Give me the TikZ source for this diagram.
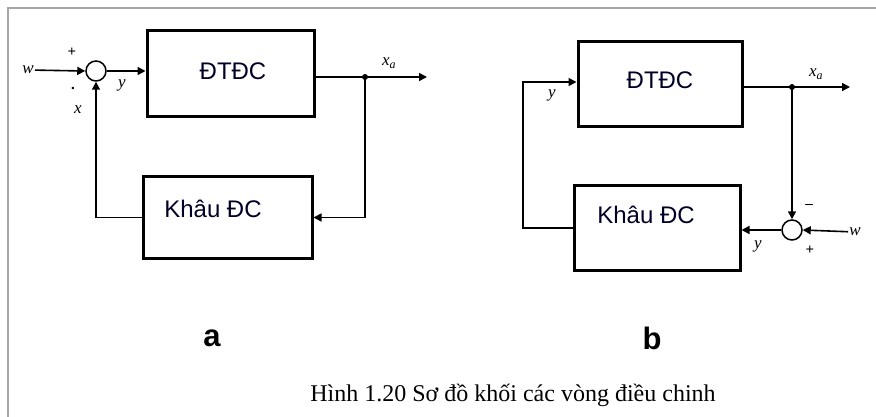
\documentclass[tikz,border=0pt]{standalone}
\usepackage{fontspec}
\setmainfont{Liberation Serif}
\setsansfont{Liberation Sans}
\usetikzlibrary{arrows.meta,calc}

\begin{document}
\begin{tikzpicture}[x=1pt,y=-1pt,
  block/.style={draw, line width=3pt, inner sep=0pt},
  boxtext/.style={font=\sffamily\fontsize{24}{26}\selectfont, text=black!85!blue},
  sum/.style={draw, circle, line width=1.5pt, minimum size=20pt, inner sep=0pt},
  arr/.style={-{Triangle[length=8pt,width=8pt]}, line width=1.6pt},
  wire/.style={line width=1.6pt},
  sig/.style={font=\itshape\fontsize{17}{18}\selectfont, inner sep=1pt},
  sign/.style={font=\bfseries\fontsize{15}{16}\selectfont, inner sep=0pt},
  tag/.style={font=\sffamily\bfseries\fontsize{31}{32}\selectfont}
]
\useasboundingbox (0,0) rectangle (876,417);
% frame
\draw[gray!70, line width=1.5pt] (8,417) -- (8,8) -- (876,8);

% diagram a
\node[block, minimum width=167pt, minimum height=86pt] (dtdcA) at (230.5,74) {};
\node[boxtext] (dtdcAtxt) at (233,71) {ĐTĐC};
\node[block, minimum width=169pt, minimum height=81pt] (kdcA) at (227.5,217.5) {};
\node[boxtext] (kdcAtxt) at (213,209) {Khâu ĐC};
\node[sum] (sumA) at (96,71) {};
\node[sig] (wA) at (28,70) {w};
\node[sig] (yA) at (122,85) {y};
\node[sig] (xA) at (78,110) {x};
\node[sig] (xaA) at (389,63) {x\textsubscript{a}};
\node[sign] (plusA) at (72,52) {+};
\node[sign] (dotA) at (73,88) {.};
\coordinate (jA) at (365,77);
\coordinate (outA) at (427,77);

\draw[arr] (wA) -- (sumA.west);
\draw[arr] (sumA.east) -- (sumA -| dtdcA.west);
\draw[wire] (jA -| dtdcA.east) -- (jA);
\draw[arr] (jA) -- (outA);
\fill (jA) circle (3pt);
\draw[arr] (jA) |- (kdcA.east);
\draw[arr] (kdcA.west) -| (sumA.south);

% diagram b
\node[block, minimum width=164pt, minimum height=85pt] (dtdcB) at (660,84.5) {};
\node[boxtext] (dtdcBtxt) at (660,80) {ĐTĐC};
\node[block, minimum width=166pt, minimum height=84pt] (kdcB) at (657,228) {};
\node[boxtext] (kdcBtxt) at (646,215) {Khâu ĐC};
\node[sum] (sumB) at (792,230) {};
\node[sig] (wB) at (855,232) {w};
\node[sig] (yB1) at (552,95) {y};
\node[sig] (yB2) at (758,246) {y};
\node[sig] (xaB) at (816,74) {x\textsubscript{a}};
\node[sign] (minusB) at (809,206) {–};
\node[sign] (plusB) at (810,250) {+};
\coordinate (jB) at (792,87);
\coordinate (outB) at (850,87);
\coordinate (cB) at (523,82);

\draw[wire] (jB -| dtdcB.east) -- (jB);
\draw[arr] (jB) -- (outB);
\fill (jB) circle (3pt);
\draw[arr] (jB) -- (sumB.north);
\draw[arr] (wB) -- (sumB.east);
\draw[arr] (sumB.west) -- (sumB -| kdcB.east);
\draw[arr] (kdcB.west) -| (cB) -- (cB -| dtdcB.west);

% tags and caption
\node[tag] (tagA) at (212,338) {a};
\node[tag] (tagB) at (652,338) {b};
\node[font=\fontsize{24}{26}\selectfont] (cap) at (513,395) {Hình 1.20 Sơ đồ khối các vòng điều chinh};
\end{tikzpicture}
\end{document}
